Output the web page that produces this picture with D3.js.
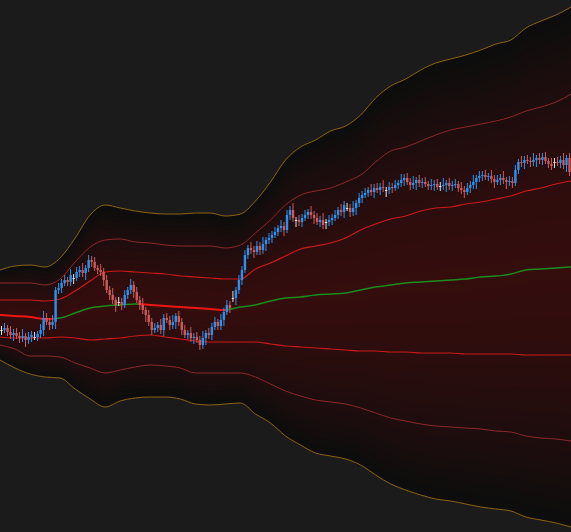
<!DOCTYPE html>
<html>
<head>
<meta charset="utf-8">
<script src="https://cdn.jsdelivr.net/npm/d3@7"></script>
<style>
  html, body { margin: 0; padding: 0; background: #1b1b1b; overflow: hidden; }
  svg { display: block; }
</style>
</head>
<body>
<svg id="chart"></svg>
<script>
// candles, one per bar
const open = [270,270,272,268,265,267,264,262,264,260,
  263,263,263,266,270,282,278,275,278,310,
  312,317,320,318,322,322,328,330,327,332,
  340,338,332,330,328,320,310,305,300,298,
  298,295,305,310,315,308,300,295,290,285,
  278,270,272,275,270,282,280,275,278,284,
  278,270,265,267,262,263,260,255,262,267,
  265,273,278,274,280,288,295,302,302,310,
  320,330,345,352,350,348,354,350,356,360,
  362,365,368,372,374,370,385,390,380,380,
  378,382,385,388,385,382,378,380,378,378,
  380,382,385,390,388,392,392,388,392,397,
  402,405,407,410,408,412,410,413,410,410,
  413,412,415,417,420,422,418,415,417,420,
  417,418,416,414,415,416,414,414,415,417,
  414,415,416,412,410,408,412,415,418,422,
  424,425,423,424,421,418,420,422,420,418,
  419,417,430,438,437,440,439,438,440,442,
  440,443,439,436,438,438,437,440,435,442]
const high = [274,277,275,274,271,272,268,271,267,268,
  269,268,269,276,289,287,282,285,313,317,
  321,325,323,331,326,333,334,337,335,345,
  344,343,335,336,332,325,314,312,303,303,
  302,310,313,321,319,313,304,302,293,290,
  282,277,278,281,286,287,284,285,287,289,
  282,275,270,273,267,268,264,269,270,272,
  277,283,281,286,292,300,299,309,313,325,
  334,350,355,358,354,359,358,363,363,367,
  369,373,375,380,378,390,394,397,383,385,
  386,390,391,394,389,387,384,387,381,385,
  386,390,393,396,399,397,396,399,400,407,
  409,412,413,416,416,417,417,420,413,418,
  417,420,420,426,426,427,422,424,423,425,
  422,423,419,421,420,421,418,422,420,422,
  419,421,419,418,414,417,419,425,425,429,
  429,430,427,430,425,425,426,429,423,424,
  423,435,441,444,444,445,443,447,445,447,
  447,448,442,442,442,443,444,447,445,447]
const low = [265,267,264,261,259,261,257,258,253,256,
  258,260,259,262,264,275,270,271,271,306,
  307,314,314,314,316,319,323,323,320,328,
  333,329,326,324,314,307,300,296,288,294,
  290,292,301,306,302,297,290,286,278,274,
  265,267,268,266,264,277,270,271,271,274,
  265,262,261,258,256,257,250,251,255,261,
  260,270,270,270,274,285,287,298,295,306,
  315,327,341,346,342,345,345,346,349,356,
  357,362,364,368,364,367,380,378,373,374,
  373,379,381,381,376,375,373,371,371,374,
  375,379,381,384,382,389,383,384,385,393,
  397,402,403,404,402,407,405,408,403,406,
  407,409,411,413,414,415,410,411,410,413,
  412,413,410,410,409,410,409,410,408,410,
  409,412,408,406,402,405,407,411,411,418,
  419,420,419,417,412,415,415,416,411,414,
  412,414,426,433,431,436,433,434,433,436,
  435,436,432,430,432,434,432,431,428,424]
const close = [270,272,268,265,267,264,262,264,260,263,
  265,263,266,270,282,278,275,278,310,312,
  317,320,318,325,322,328,330,327,332,340,
  338,332,330,328,320,310,305,300,295,298,
  295,305,310,315,308,300,295,290,285,278,
  270,272,275,270,282,280,275,278,284,278,
  270,265,267,262,263,260,255,262,267,265,
  273,278,274,280,288,295,292,302,310,320,
  330,345,352,350,348,354,350,356,360,362,
  365,368,372,374,370,385,390,382,380,378,
  382,385,388,385,382,378,380,375,378,380,
  382,385,390,388,395,392,388,392,397,402,
  405,407,410,408,412,410,413,412,410,413,
  412,415,417,420,422,418,415,417,420,417,
  418,416,414,415,416,413,414,415,417,414,
  415,416,412,410,408,412,415,418,422,424,
  425,423,424,421,418,420,422,420,418,419,
  417,430,438,437,440,439,438,440,442,440,
  443,439,436,434,438,437,440,435,442,428]

// envelope bands, sampled every 5 bars
const bandT = d3.range(0, 191, 5)
const outerUpper = [330,334,335,333,342,362,385,395,392,389,387,386,386,387,387,384,386,399,418,440,453,460,469,474,485,502,514,521,530,537,541,545,550,556,560,572,579,585,593]
const midUpper = [317,317,317,315,321,338,353,360,361,358,357,355,354,354,354,352,355,367,380,395,405,409,412,418,425,438,449,453,459,465,470,473,476,479,483,489,493,498,506]
const innerUpper = [300,300,300,299,301,309,319,328,329,328,327,326,324,323,322,321,321,331,337,344,351,354,357,362,370,376,381,384,389,392,393,396,398,401,404,409,412,416,419]
const basis = [285,284,283,281,282,287,292,294,295,296,295,294,293,292,291,290,293,295,299,302,303,305,306,307,310,313,315,317,318,319,320,321,323,324,326,330,331,332,333]
const innerLower = [263,262,262,262,263,262,260,261,262,264,265,263,261,259,258,258,258,258,256,254,253,252,251,250,249,249,248,248,247,247,247,246,246,246,246,245,245,245,245]
const midLower = [255,251,244,244,243,237,232,227,230,233,235,234,232,227,227,227,227,223,216,209,204,200,198,196,192,187,182,179,176,174,173,172,171,169,168,164,162,161,159]
const outerLower = [240,232,226,223,222,211,201,193,199,202,203,203,201,196,195,196,197,186,177,164,155,147,144,141,135,125,116,110,105,101,99,96,93,91,89,83,80,77,73]

// basis colour changes with trend
const trendSegments = [
  {from: 0, to: 18, up: false},
  {from: 18, to: 46, up: true},
  {from: 46, to: 76, up: false},
  {from: 76, to: 190, up: true},
]

const width = 571
const height = 532
const n_bars = close.length

const svg = d3.select("#chart")
    .attr("width", width)
    .attr("height", height)

svg.append("rect")
    .attr("width", width)
    .attr("height", height)
    .attr("fill", "#1b1b1b")

const x = d3.scaleLinear().domain([0, n_bars]).range([0, width])
const y = d3.scaleLinear().domain([68, 600]).range([height, 0])

const band_data = bandT.map((t, i) => ({
    t: t,
    ou: outerUpper[i], mu: midUpper[i], iu: innerUpper[i],
    b: basis[i],
    il: innerLower[i], ml: midLower[i], ol: outerLower[i],
}))

// dark fill between the outer bands
svg.append("path")
    .datum(band_data)
    .attr("fill", "#0d0d0d")
    .attr("d", d3.area()
        .x(d => x(d.t))
        .y0(d => y(d.ol))
        .y1(d => y(d.ou))
        .curve(d3.curveMonotoneX))

// red glow getting stronger towards the basis
const n_layers = 20
for (let j = 0; j < n_layers; j++) {
    const k = 0.95 - j * 0.9 / (n_layers - 1)
    svg.append("path")
        .datum(band_data)
        .attr("fill", "rgb(92,14,14)")
        .attr("fill-opacity", 0.042)
        .attr("d", d3.area()
            .x(d => x(d.t))
            .y0(d => y(d.b + k * (d.ol - d.b)))
            .y1(d => y(d.b + k * (d.ou - d.b)))
            .curve(d3.curveMonotoneX))
}

function drawBand(key, color, w) {
    svg.append("path")
        .datum(band_data)
        .attr("fill", "none")
        .attr("stroke", color)
        .attr("stroke-width", w)
        .attr("d", d3.line()
            .x(d => x(d.t))
            .y(d => y(d[key]))
            .curve(d3.curveMonotoneX))
}

drawBand("ou", "#8c6414", 1)
drawBand("ol", "#8c6414", 1)
drawBand("mu", "#8e2828", 1)
drawBand("ml", "#8e2828", 1)
drawBand("iu", "#cc1a1a", 1.2)
drawBand("il", "#cc1a1a", 1.2)

// basis line, split by trend
const defs = svg.append("defs")
trendSegments.forEach((s, i) => {
    defs.append("clipPath")
        .attr("id", "seg" + i)
        .append("rect")
        .attr("x", x(s.from))
        .attr("y", 0)
        .attr("width", x(s.to) - x(s.from))
        .attr("height", height)
    svg.append("path")
        .datum(band_data)
        .attr("clip-path", "url(#seg" + i + ")")
        .attr("fill", "none")
        .attr("stroke", s.up ? "#1c8c1c" : "#ee1515")
        .attr("stroke-width", s.up ? 1.5 : 2)
        .attr("d", d3.line()
            .x(d => x(d.t))
            .y(d => y(d.b))
            .curve(d3.curveMonotoneX))
})

// candles
const bars = d3.range(n_bars).map(i => ({
    i: i, o: open[i], h: high[i], l: low[i], c: close[i],
}))

function candleColor(d) {
    if (d.c > d.o) return "#2a92ee"
    if (d.c < d.o) return "#cd5a5a"
    return "#e0e0e0"
}

const body_w = 2.4

const g = svg.append("g")
const candle = g.selectAll("g")
    .data(bars)
    .enter()
    .append("g")

candle.append("line")
    .attr("x1", d => x(d.i + 0.5))
    .attr("x2", d => x(d.i + 0.5))
    .attr("y1", d => y(d.h))
    .attr("y2", d => y(d.l))
    .attr("stroke", candleColor)
    .attr("stroke-width", 1)

candle.append("rect")
    .attr("x", d => x(d.i + 0.5) - body_w / 2)
    .attr("y", d => y(Math.max(d.o, d.c)))
    .attr("width", body_w)
    .attr("height", d => Math.max(1, Math.abs(y(d.o) - y(d.c))))
    .attr("fill", candleColor)
</script>
</body>
</html>
